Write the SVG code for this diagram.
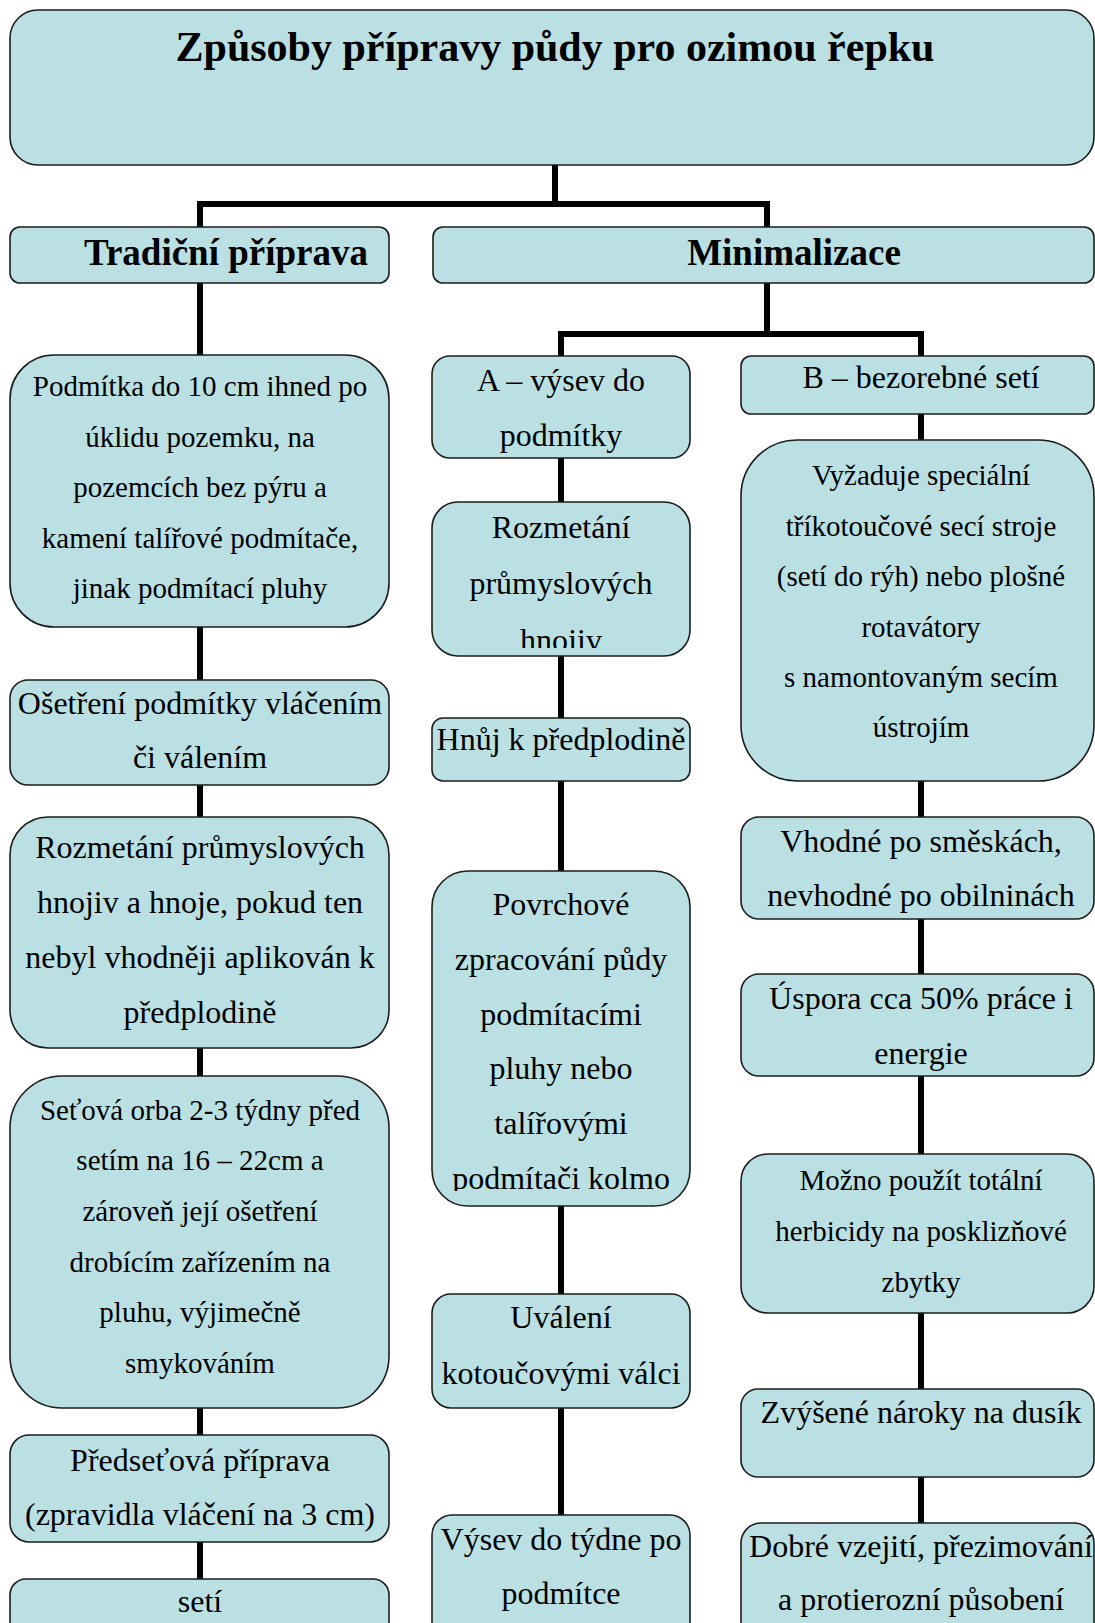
<svg xmlns="http://www.w3.org/2000/svg" width="1095" height="1623" viewBox="0 0 1095 1623">
<style>
.box{fill:#BAE0E3;stroke:#1c1c1c;stroke-width:1.6}
.t{font-family:"Liberation Serif","Times New Roman",serif;fill:#000;text-anchor:middle}
.s29{font-size:29px}
.s32{font-size:32px}
.h{font-weight:bold;font-size:37px}
.title{font-weight:bold;font-size:42px}
.con{fill:none;stroke:#000;stroke-width:6}
</style>
<defs>
<clipPath id="clipRoz"><rect x="432" y="502" width="258" height="146"/></clipPath>
<clipPath id="clipPov"><rect x="432" y="871" width="258" height="320"/></clipPath>
</defs>
<rect width="1095" height="1623" fill="#fff"/>
<g id="connectors">
<path class="con" d="M555,165 V204 M200,227 V204 H767 V227"/>
<path class="con" d="M767,283 V334 M561,356 V334 H921 V356"/>
<path class="con" d="M200,283 V355 M200,627 V680 M200,785 V817 M200,1048 V1076 M200,1408 V1435 M200,1542 V1579"/>
<path class="con" d="M561,458 V502 M561,656 V718 M561,781 V871 M561,1206 V1294 M561,1408 V1515"/>
<path class="con" d="M921,414 V440 M921,781 V817 M921,919 V974 M921,1076 V1154 M921,1313 V1389 M921,1477 V1523"/>
</g>
<g id="title">
<rect class="box" x="10" y="10" width="1084" height="155" rx="28"/>
<text class="t title" x="555" y="61">Způsoby přípravy půdy pro ozimou řepku</text>
</g>
<g id="tradicni">
<rect class="box" x="10" y="227" width="379" height="56" rx="10"/>
<text class="t h" x="226" y="265">Tradiční příprava</text>
</g>
<g id="minimalizace">
<rect class="box" x="433" y="227" width="661" height="56" rx="10"/>
<text class="t h" x="794" y="265">Minimalizace</text>
</g>
<g id="podmitka">
<rect class="box" x="10" y="355" width="379" height="272" rx="44"/>
<text class="t s29" x="200"><tspan x="200" y="396">Podmítka do 10 cm ihned po</tspan><tspan x="200" y="446.5">úklidu pozemku, na</tspan><tspan x="200" y="497">pozemcích bez pýru a</tspan><tspan x="200" y="547.5">kamení talířové podmítače,</tspan><tspan x="200" y="598">jinak podmítací pluhy</tspan></text>
</g>
<g id="osetreni">
<rect class="box" x="10" y="680" width="379" height="105" rx="18"/>
<text class="t s32" x="200"><tspan x="200" y="714">Ošetření podmítky vláčením</tspan><tspan x="200" y="768">či válením</tspan></text>
</g>
<g id="rozmetani-l">
<rect class="box" x="10" y="817" width="379" height="231" rx="38"/>
<text class="t s32" x="200"><tspan x="200" y="858">Rozmetání průmyslových</tspan><tspan x="200" y="913">hnojiv a hnoje, pokud ten</tspan><tspan x="200" y="968">nebyl vhodněji aplikován k</tspan><tspan x="200" y="1023">předplodině</tspan></text>
</g>
<g id="setova">
<rect class="box" x="10" y="1076" width="379" height="332" rx="52"/>
<text class="t s29" x="200"><tspan x="200" y="1120">Seťová orba 2-3 týdny před</tspan><tspan x="200" y="1170">setím na 16 – 22cm a</tspan><tspan x="200" y="1221">zároveň její ošetření</tspan><tspan x="200" y="1272">drobícím zařízením na</tspan><tspan x="200" y="1322">pluhu, výjimečně</tspan><tspan x="200" y="1373">smykováním</tspan></text>
</g>
<g id="predsetova">
<rect class="box" x="10" y="1435" width="379" height="107" rx="19"/>
<text class="t s32" x="200"><tspan x="200" y="1471">Předseťová příprava</tspan><tspan x="200" y="1525">(zpravidla vláčení na 3 cm)</tspan></text>
</g>
<g id="seti">
<rect class="box" x="10" y="1579" width="379" height="100" rx="16"/>
<text class="t s32" x="200" y="1612">setí</text>
</g>
<g id="a-vysev">
<rect class="box" x="432" y="356" width="258" height="102" rx="18"/>
<text class="t s32" x="561"><tspan x="561" y="391">A – výsev do</tspan><tspan x="561" y="446">podmítky</tspan></text>
</g>
<g id="rozmetani-m">
<rect class="box" x="432" y="502" width="258" height="154" rx="26"/>
<text class="t s32" x="561" clip-path="url(#clipRoz)"><tspan x="561" y="538">Rozmetání</tspan><tspan x="561" y="594">průmyslových</tspan><tspan x="561" y="651">hnojiv</tspan></text>
</g>
<g id="hnuj">
<rect class="box" x="432" y="718" width="258" height="63" rx="11"/>
<text class="t s32" x="561" y="750">Hnůj k předplodině</text>
</g>
<g id="povrchove">
<rect class="box" x="432" y="871" width="258" height="335" rx="36"/>
<text class="t s32" x="561" clip-path="url(#clipPov)"><tspan x="561" y="915">Povrchové</tspan><tspan x="561" y="970">zpracování půdy</tspan><tspan x="561" y="1024.5">podmítacími</tspan><tspan x="561" y="1079">pluhy nebo</tspan><tspan x="561" y="1134">talířovými</tspan><tspan x="561" y="1189">podmítači kolmo</tspan></text>
</g>
<g id="valeni">
<rect class="box" x="432" y="1294" width="258" height="114" rx="19"/>
<text class="t s32" x="561"><tspan x="561" y="1328">Uválení</tspan><tspan x="561" y="1384">kotoučovými válci</tspan></text>
</g>
<g id="vysev">
<rect class="box" x="432" y="1515" width="258" height="160" rx="20"/>
<text class="t s32" x="561"><tspan x="561" y="1550">Výsev do týdne po</tspan><tspan x="561" y="1604">podmítce</tspan></text>
</g>
<g id="b-bezorebne">
<rect class="box" x="741" y="356" width="353" height="58" rx="10"/>
<text class="t s32" x="921" y="388">B – bezorebné setí</text>
</g>
<g id="vyzaduje">
<rect class="box" x="741" y="440" width="353" height="341" rx="56"/>
<text class="t s29" x="921"><tspan x="921" y="485">Vyžaduje speciální</tspan><tspan x="921" y="535.5">tříkotoučové secí stroje</tspan><tspan x="921" y="586">(setí do rýh) nebo plošné</tspan><tspan x="921" y="636.5">rotavátory</tspan><tspan x="921" y="687">s namontovaným secím</tspan><tspan x="921" y="737">ústrojím</tspan></text>
</g>
<g id="vhodne">
<rect class="box" x="741" y="817" width="353" height="102" rx="18"/>
<text class="t s32" x="921"><tspan x="921" y="852">Vhodné po směskách,</tspan><tspan x="921" y="906">nevhodné po obilninách</tspan></text>
</g>
<g id="uspora">
<rect class="box" x="741" y="974" width="353" height="102" rx="18"/>
<text class="t s32" x="921"><tspan x="921" y="1009">Úspora cca 50% práce i</tspan><tspan x="921" y="1064">energie</tspan></text>
</g>
<g id="mozno">
<rect class="box" x="741" y="1154" width="353" height="159" rx="27"/>
<text class="t s29" x="921"><tspan x="921" y="1190">Možno použít totální</tspan><tspan x="921" y="1241">herbicidy na posklizňové</tspan><tspan x="921" y="1292">zbytky</tspan></text>
</g>
<g id="zvysene">
<rect class="box" x="741" y="1389" width="353" height="88" rx="17"/>
<text class="t s32" x="921" y="1423">Zvýšené nároky na dusík</text>
</g>
<g id="dobre">
<rect class="box" x="741" y="1523" width="353" height="160" rx="20"/>
<text class="t s32" x="921"><tspan x="921" y="1557">Dobré vzejití, přezimování</tspan><tspan x="921" y="1610">a protierozní působení</tspan></text>
</g>
</svg>
